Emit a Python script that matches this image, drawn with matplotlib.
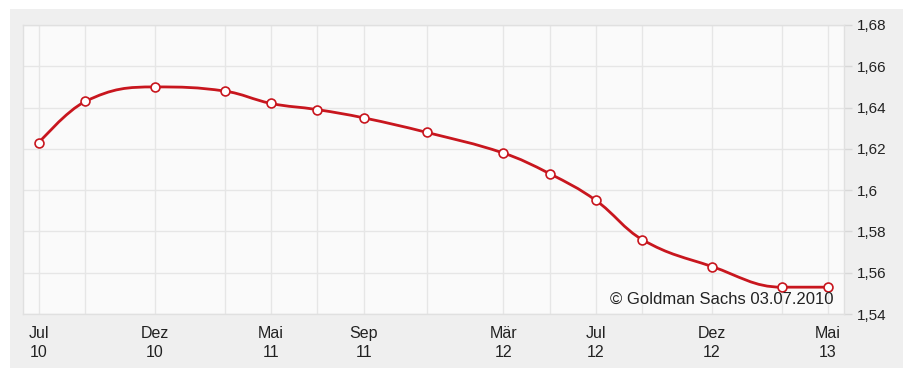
import matplotlib
matplotlib.use("Agg")
import matplotlib.pyplot as plt
from matplotlib.path import Path
from matplotlib.patches import PathPatch, Rectangle
import numpy as np

# ---- data (months after Jul 2010, value) ----
months = [0, 2, 5, 8, 10, 12, 14, 16.7, 20, 22, 24, 26, 29, 32, 34]
values = [1.623, 1.643, 1.650, 1.648, 1.642, 1.639, 1.635, 1.628, 1.618,
          1.608, 1.595, 1.576, 1.563, 1.553, 1.553]
x_tick_pos = [0, 5, 10, 14, 20, 24, 29, 34]
x_tick_labels = ["Jul\n10", "Dez\n10", "Mai\n11", "Sep\n11", "Mär\n12",
                 "Jul\n12", "Dez\n12", "Mai\n13"]
y_ticks = [1.54, 1.56, 1.58, 1.60, 1.62, 1.64, 1.66, 1.68]
y_tick_labels = ["1,54", "1,56", "1,58", "1,6", "1,62", "1,64", "1,66", "1,68"]
credit = "© Goldman Sachs 03.07.2010"

plt.rcParams['font.family'] = ['Liberation Sans', 'DejaVu Sans']

W, H, DPI = 904, 368, 100
fig = plt.figure(figsize=(W / DPI, H / DPI), dpi=DPI, facecolor='white')
fig.patches.append(Rectangle((10 / W, 0), 1, 1 - 9 / H, transform=fig.transFigure,
                             facecolor='#efefef', edgecolor='none', zorder=-10))

L, R, T, B = 23, 844, 25, 314
ax = fig.add_axes([L / W, 1 - B / H, (R - L) / W, (B - T) / H])
ax.set_facecolor('#fafafa')

px_per_month = (828 - 39) / 34
pad = 16 / px_per_month
ax.set_xlim(months[0] - pad, months[-1] + pad)
ax.set_ylim(1.54, 1.68)

# Highcharts-like spline through the data points
def spline_path(xs, ys, smoothing=1.5):
    n = len(xs)
    denom = smoothing + 1
    lc = [None] * n
    rc = [None] * n
    for i in range(n):
        x, y = xs[i], ys[i]
        if 0 < i < n - 1:
            lx, ly = xs[i - 1], ys[i - 1]
            nx, ny = xs[i + 1], ys[i + 1]
            lcx = (smoothing * x + lx) / denom
            lcy = (smoothing * y + ly) / denom
            rcx = (smoothing * x + nx) / denom
            rcy = (smoothing * y + ny) / denom
            corr = 0
            if rcx != lcx:
                corr = (rcy - lcy) * (rcx - x) / (rcx - lcx) + y - rcy
            lcy += corr
            rcy += corr
            if lcy > ly and lcy > y:
                lcy = max(ly, y); rcy = 2 * y - lcy
            elif lcy < ly and lcy < y:
                lcy = min(ly, y); rcy = 2 * y - lcy
            if rcy > ny and rcy > y:
                rcy = max(ny, y); lcy = 2 * y - rcy
            elif rcy < ny and rcy < y:
                rcy = min(ny, y); lcy = 2 * y - rcy
            lc[i] = (lcx, lcy)
            rc[i] = (rcx, rcy)
        else:
            lc[i] = (x, y)
            rc[i] = (x, y)
    verts = [(xs[0], ys[0])]
    codes = [Path.MOVETO]
    for i in range(1, n):
        verts += [rc[i - 1], lc[i], (xs[i], ys[i])]
        codes += [Path.CURVE4] * 3
    return Path(verts, codes)

red = '#c8161e'
ax.add_patch(PathPatch(spline_path(months, values), facecolor='none',
                       edgecolor=red, linewidth=2.0, zorder=3, capstyle='round',
                       joinstyle='round'))
ax.plot(months, values, linestyle='none', marker='o', markersize=6.4,
        markerfacecolor='white', markeredgecolor=red, markeredgewidth=1.2, zorder=4)

# grid
ax.set_xticks(months, minor=True)
ax.set_xticks(x_tick_pos)
ax.set_xticklabels(x_tick_labels, fontsize=11.5, color='#222222', linespacing=1.35)
ax.tick_params(axis='x', which='both', length=0, pad=8.5)
ax.grid(True, axis='x', which='both', color='#e6e6e6', linewidth=1.0)
ax.set_yticks(y_ticks)
ax.set_yticklabels(y_tick_labels, fontsize=11, color='#222222')
ax.yaxis.tick_right()
ax.tick_params(axis='y', length=6, width=1, color='#d8d8d8', pad=3)
ax.grid(True, axis='y', color='#e6e6e6', linewidth=1.0)
ax.set_axisbelow(True)
for s in ax.spines.values():
    s.set_color('#e0e0e0')
    s.set_linewidth(1.0)

ax.annotate(credit, xy=(1, 0), xycoords='axes fraction', xytext=(-10, 7),
            textcoords='offset pixels', ha='right', va='bottom',
            fontsize=12, color='#222222', zorder=5)

fig.savefig('out.png', dpi=DPI, facecolor='white')
